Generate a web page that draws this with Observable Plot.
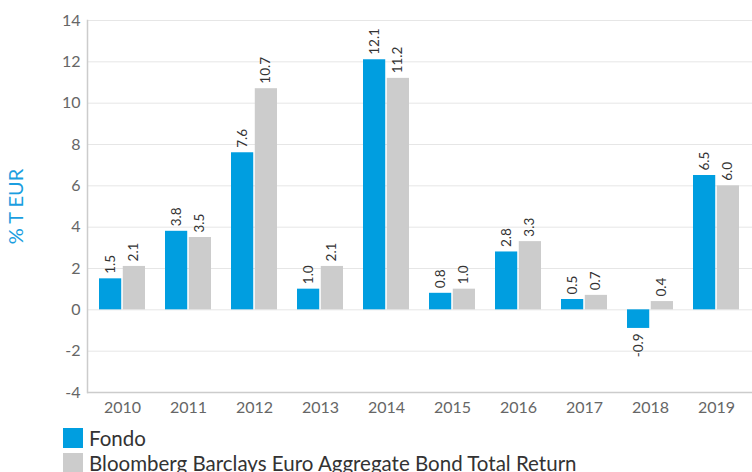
<!DOCTYPE html>
<html><head><meta charset="utf-8">
<script src="https://cdn.jsdelivr.net/npm/d3@7"></script>
<script src="https://cdn.jsdelivr.net/npm/@observablehq/plot@0.6"></script>
<style>
body{margin:0;background:#fff;font-family:Lato,"Noto Sans",sans-serif;overflow:hidden;}
#legend{margin-left:63px;margin-top:5px;}
.row{display:flex;align-items:center;height:25px;font-size:20.5px;line-height:22px;color:#333;}
.sw{width:20px;height:20px;margin-right:6px;flex:none;}
</style></head>
<body>
<div id="chart"></div>
<div id="legend"></div>
<script>
const years = ["2010","2011","2012","2013","2014","2015","2016","2017","2018","2019"];
const fondo = [1.5, 3.8, 7.6, 1.0, 12.1, 0.8, 2.8, 0.5, -0.9, 6.5];
const bench = [2.1, 3.5, 10.7, 2.1, 11.2, 1.0, 3.3, 0.7, 0.4, 6.0];
const seriesNames = ["Fondo", "Bloomberg Barclays Euro Aggregate Bond Total Return"];
const colors = ["#009ee0", "#cccccc"];
const yTicks = [-4,-2,0,2,4,6,8,10,12,14];

const W = 752, ML = 87, MR = 0;
const bw = (W - ML - MR) / years.length * 0.7;
const half = bw / 2;

const dF = years.map((y,i)=>({year:y, v:fondo[i]}));
const dB = years.map((y,i)=>({year:y, v:bench[i]}));
const fmt = d => d.v.toFixed(1);

const labelMarks = (data, dx) => [
  Plot.text(data.filter(d=>d.v>=0), {x:"year", y:"v", text:fmt, rotate:-90, textAnchor:"start", dx, dy:-5, fontSize:13.5, fill:"#333"}),
  Plot.text(data.filter(d=>d.v<0), {x:"year", y:"v", text:fmt, rotate:-90, textAnchor:"end", dx, dy:5, fontSize:13.5, fill:"#333"})
];

const plot = Plot.plot({
  width: W, height: 420,
  marginLeft: ML, marginRight: MR, marginTop: 20, marginBottom: 28,
  style: {fontFamily: "Lato, 'Noto Sans', sans-serif", background: "#fff"},
  x: {domain: years, paddingInner: 0.3, paddingOuter: 0.15, label: null},
  y: {domain: [-4, 14], label: null},
  marks: [
    Plot.gridY(yTicks, {stroke: "#e6e6e6", strokeOpacity: 1}),
    Plot.ruleY([-4], {stroke: "#cccccc", strokeWidth: 1.5}),
    Plot.frame({anchor: "left", stroke: "#cccccc", strokeWidth: 1.5}),
    Plot.barY(dF, {x: "year", y: "v", fill: colors[0], insetRight: half + 0.5}),
    Plot.barY(dB, {x: "year", y: "v", fill: colors[1], insetLeft: half + 0.5}),
    ...labelMarks(dF, -half/2),
    ...labelMarks(dB, half/2),
    Plot.axisY(yTicks, {tickSize: 0, tickPadding: 7, fontSize: 16, fill: "#666", label: null, tickFormat: d => String(d)}),
    Plot.axisX({tickSize: 0, tickPadding: 9, fontSize: 16, fill: "#666", label: null}),
    Plot.text(["% T EUR"], {frameAnchor: "left", textAnchor: "middle", dx: -71, rotate: -90, fill: "#1a9ee0", fontSize: 20})
  ]
});
document.getElementById("chart").append(plot);

const lg = document.getElementById("legend");
seriesNames.forEach((n,i)=>{
  const r = document.createElement("div"); r.className="row";
  const s = document.createElement("div"); s.className="sw"; s.style.background=colors[i];
  const t = document.createElement("span"); t.textContent=n;
  r.append(s,t); lg.append(r);
});
</script>
</body></html>
